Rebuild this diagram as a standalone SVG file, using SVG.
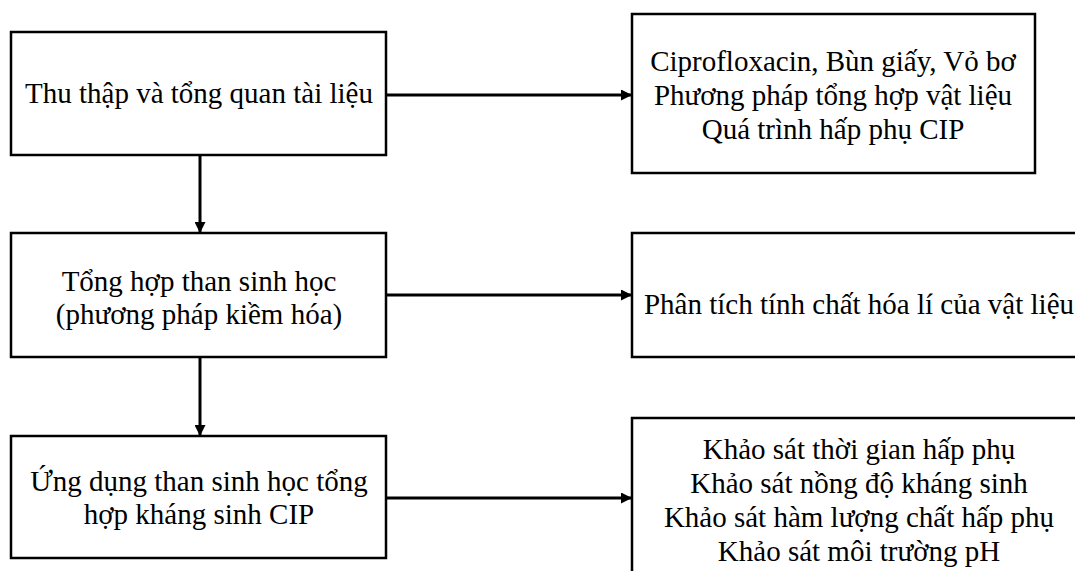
<svg xmlns="http://www.w3.org/2000/svg" width="1075" height="571" viewBox="0 0 1075 571">
<style>
.box{fill:#fff;stroke:#000;stroke-width:2.5}
.t{font-family:"Liberation Serif","Times New Roman",serif;font-size:29px;fill:#000;text-anchor:middle}
.c{stroke:#000;stroke-width:3;fill:none}
</style>
<defs>
<marker id="ah" markerWidth="11" markerHeight="11" refX="10" refY="5.5" orient="auto" markerUnits="userSpaceOnUse">
<path d="M0,0 L11,5.5 L0,11 Z" fill="#000"/>
</marker>
</defs>
<rect width="1075" height="571" fill="#fff"/>
<g id="n1">
<rect class="box" x="11" y="32" width="375" height="123"/>
<text class="t" x="199" y="103">Thu thập và tổng quan tài liệu</text>
</g>
<g id="n2">
<rect class="box" x="632" y="14" width="403" height="159"/>
<text class="t" x="833" y="71">Ciprofloxacin, Bùn giấy, Vỏ bơ</text>
<text class="t" x="833" y="105">Phương pháp tổng hợp vật liệu</text>
<text class="t" x="833" y="139">Quá trình hấp phụ CIP</text>
</g>
<g id="n3">
<rect class="box" x="11" y="233" width="375" height="124"/>
<text class="t" x="199" y="291">Tổng hợp than sinh học</text>
<text class="t" x="199" y="324">(phương pháp kiềm hóa)</text>
</g>
<g id="n4">
<rect class="box" x="632" y="233" width="460" height="124"/>
<text class="t" x="859" y="314">Phân tích tính chất hóa lí của vật liệu</text>
</g>
<g id="n5">
<rect class="box" x="11" y="436" width="375" height="122"/>
<text class="t" x="199" y="491">Ứng dụng than sinh học tổng</text>
<text class="t" x="199" y="524">hợp kháng sinh CIP</text>
</g>
<g id="n6">
<rect class="box" x="632" y="418" width="460" height="170"/>
<text class="t" x="859" y="459">Khảo sát thời gian hấp phụ</text>
<text class="t" x="859" y="493">Khảo sát nồng độ kháng sinh</text>
<text class="t" x="859" y="527">Khảo sát hàm lượng chất hấp phụ</text>
<text class="t" x="859" y="561">Khảo sát môi trường pH</text>
</g>
<g id="connectors">
<line class="c" x1="386" y1="95" x2="631" y2="95" marker-end="url(#ah)"/>
<line class="c" x1="386" y1="295" x2="631" y2="295" marker-end="url(#ah)"/>
<line class="c" x1="386" y1="498" x2="631" y2="498" marker-end="url(#ah)"/>
<line class="c" x1="200" y1="155" x2="200" y2="232" marker-end="url(#ah)"/>
<line class="c" x1="200" y1="357" x2="200" y2="435" marker-end="url(#ah)"/>
</g>
</svg>
